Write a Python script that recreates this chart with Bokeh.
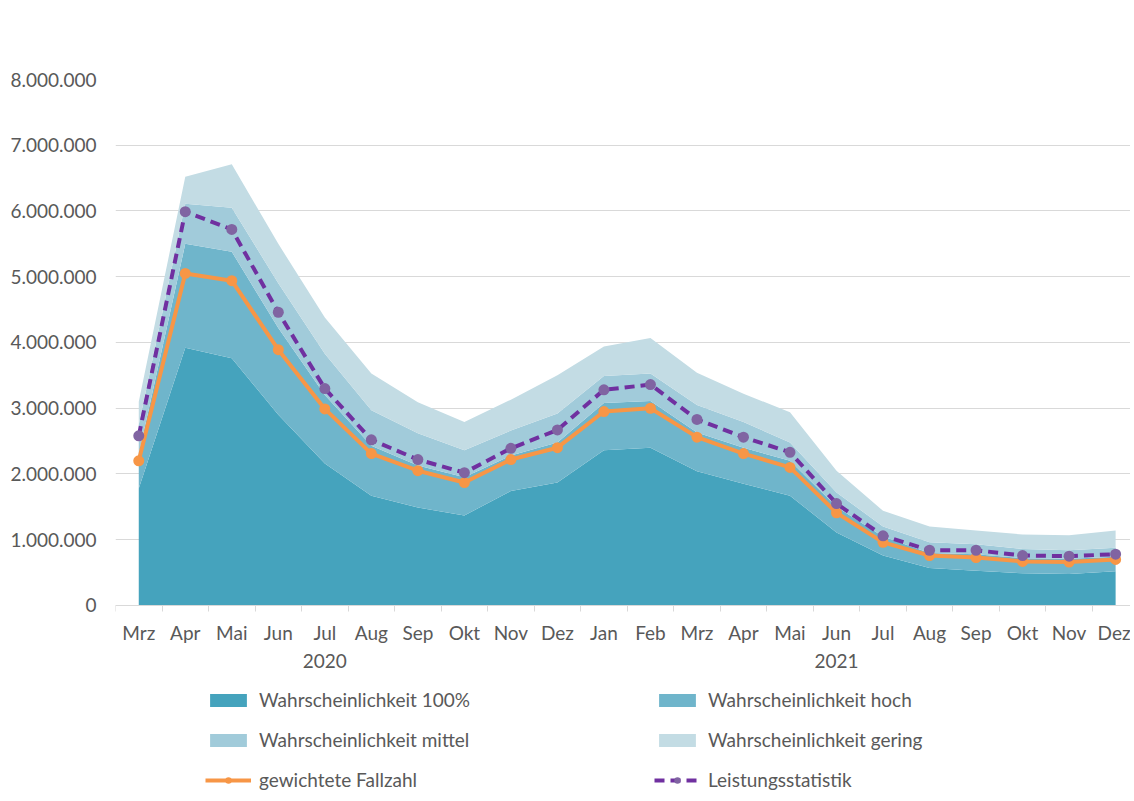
import numpy as np
from bokeh.plotting import figure
from bokeh.models import FixedTicker, Legend, LegendItem, ColumnDataSource
from bokeh.embed import file_html
from bokeh.resources import INLINE

# ---- data (values in millions) ----
months = ["Mrz", "Apr", "Mai", "Jun", "Jul", "Aug", "Sep", "Okt", "Nov", "Dez",
          "Jan", "Feb", "Mrz", "Apr", "Mai", "Jun", "Jul", "Aug", "Sep", "Okt", "Nov", "Dez"]
years = ["", "", "", "", "2020", "", "", "", "", "",
         "", "", "", "", "", "2021", "", "", "", "", "", ""]

w_100 = [1.78, 3.92, 3.76, 2.90, 2.16, 1.67, 1.49, 1.37, 1.74, 1.87, 2.36,
         2.40, 2.04, 1.85, 1.67, 1.11, 0.76, 0.57, 0.53, 0.49, 0.48, 0.52]
w_hoch = [0.52, 1.58, 1.62, 1.32, 1.04, 0.76, 0.64, 0.58, 0.54, 0.61, 0.72,
          0.71, 0.59, 0.55, 0.53, 0.39, 0.29, 0.23, 0.25, 0.23, 0.23, 0.22]
w_mittel = [0.45, 0.61, 0.67, 0.68, 0.63, 0.54, 0.49, 0.41, 0.38, 0.44, 0.41,
            0.42, 0.42, 0.39, 0.28, 0.22, 0.15, 0.16, 0.15, 0.14, 0.13, 0.14]
w_gering = [0.35, 0.41, 0.66, 0.60, 0.55, 0.56, 0.47, 0.43, 0.47, 0.58, 0.45,
            0.54, 0.49, 0.43, 0.46, 0.33, 0.24, 0.24, 0.21, 0.22, 0.23, 0.26]
fallzahl = [2.20, 5.05, 4.94, 3.89, 2.99, 2.31, 2.05, 1.87, 2.22, 2.40, 2.95,
            3.00, 2.56, 2.31, 2.10, 1.41, 0.96, 0.76, 0.73, 0.67, 0.66, 0.70]
leistung = [2.58, 5.99, 5.72, 4.46, 3.30, 2.52, 2.22, 2.02, 2.39, 2.67, 3.28,
            3.36, 2.83, 2.56, 2.33, 1.55, 1.06, 0.84, 0.84, 0.76, 0.75, 0.78]

y_ticks = [0, 1, 2, 3, 4, 5, 6, 7, 8]
y_labels = ["0", "1.000.000", "2.000.000", "3.000.000", "4.000.000",
            "5.000.000", "6.000.000", "7.000.000", "8.000.000"]

series_names = ["Wahrscheinlichkeit 100%", "Wahrscheinlichkeit hoch",
                "Wahrscheinlichkeit mittel", "Wahrscheinlichkeit gering"]
colors = ["#45A3BD", "#6FB5CB", "#A1CBDA", "#C3DCE4"]

FONT = "Lato"
TXT = "#595959"
FS = "19px"

n = len(months)
x = np.arange(n) + 0.5
src = ColumnDataSource(dict(x=x, a=w_100, b=w_hoch, c=w_mittel, d=w_gering,
                            f=fallzahl, l=leistung))

p = figure(width=1130, height=795, output_backend="svg", toolbar_location=None,
           x_range=(0, 21.82), y_range=(-2.89, 8),
           min_border_left=115, min_border_right=0, min_border_top=79,
           min_border_bottom=0)
p.outline_line_color = None
p.background_fill_color = "white"
p.border_fill_color = "white"

rs = p.varea_stack(stackers=["a", "b", "c", "d"], x="x", color=colors, source=src)

rf = p.line("x", "f", source=src, line_color="#F79646", line_width=4)
rfm = p.scatter("x", "f", source=src, size=11, fill_color="#F79646", line_color=None)
rl = p.line("x", "l", source=src, line_color="#7030A0", line_width=4, line_dash="10 6")
rlm = p.scatter("x", "l", source=src, size=11, fill_color="#8064A2", line_color=None)

# axes
p.yaxis.ticker = FixedTicker(ticks=y_ticks)
p.yaxis.major_label_overrides = {t: s for t, s in zip(y_ticks, y_labels)}
p.yaxis.axis_line_color = None
p.yaxis.major_tick_line_color = None
p.yaxis.minor_tick_line_color = None
p.yaxis.major_tick_out = 0
p.yaxis.major_tick_in = 0
p.yaxis.major_label_standoff = 19
p.yaxis.major_label_text_font = FONT
p.yaxis.major_label_text_font_size = FS
p.yaxis.major_label_text_color = TXT

p.xaxis.fixed_location = 0
p.xaxis.ticker = FixedTicker(ticks=list(x), minor_ticks=list(np.arange(n + 1)))
p.xaxis.major_label_overrides = {float(xx): (m if y == "" else m + "\n" + y)
                                 for xx, m, y in zip(x, months, years)}
p.xaxis.axis_line_color = "#D9D9D9"
p.xaxis.axis_line_width = 1
p.xaxis.major_tick_line_color = None
p.xaxis.major_tick_out = 0
p.xaxis.major_tick_in = 0
p.xaxis.minor_tick_line_color = "#D9D9D9"
p.xaxis.minor_tick_out = 6
p.xaxis.minor_tick_in = 0
p.xaxis.major_label_standoff = 10
p.xaxis.major_label_text_font = FONT
p.xaxis.major_label_text_font_size = FS
p.xaxis.major_label_text_color = TXT

p.xgrid.grid_line_color = None
p.ygrid.grid_line_color = "#D9D9D9"
p.ygrid.grid_line_width = 1

items = [
    LegendItem(label=series_names[0], renderers=[rs[0]]),
    LegendItem(label=series_names[1], renderers=[rs[1]]),
    LegendItem(label=series_names[2], renderers=[rs[2]]),
    LegendItem(label=series_names[3], renderers=[rs[3]]),
    LegendItem(label="gewichtete Fallzahl", renderers=[rf, rfm]),
    LegendItem(label="Leistungsstatistik", renderers=[rl, rlm]),
]
legend = Legend(items=items, orientation="horizontal", ncols=2,
                location=(90, 4), padding=0, margin=0, spacing=17,
                glyph_width=46, glyph_height=16, label_height=20,
                label_width=378, label_standoff=8,
                label_text_font=FONT, label_text_font_size=FS,
                label_text_color=TXT, border_line_color=None,
                background_fill_alpha=0)
p.add_layout(legend)

open("out.html", "w").write(file_html(p, INLINE))
